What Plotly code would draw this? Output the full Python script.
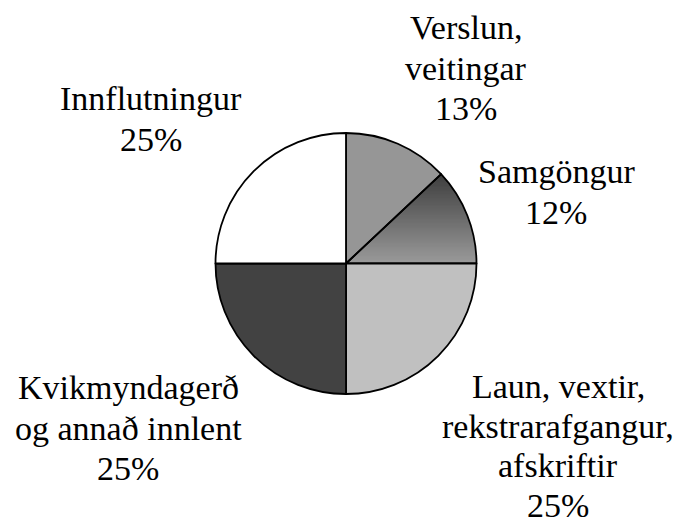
import numpy as np
import plotly.graph_objects as go

# ---------------- data ----------------
categories = [
    "Verslun,<br>veitingar",
    "Samgöngur",
    "Laun, vextir,<br>rekstrarafgangur,<br>afskriftir",
    "Kvikmyndagerð<br>og annað innlent",
    "Innflutningur",
]
values = [13, 12, 25, 25, 25]

# ---------------- layout constants (pixels) ----------------
W, H = 686, 525
CX, CY, R = 346.0, 263.5, 130.5
slice_colors = ["#969696", "rgba(0,0,0,0)", "#c0c0c0", "#424242", "#ffffff"]
GRAD_TOP, GRAD_BOTTOM = (0x3e, 0x3e, 0x3e), (0x9a, 0x9a, 0x9a)
FS = 34
FONT = "Liberation Serif"
# label anchors: centre x, baseline of first line, line spacing
label_pos = [(466, 39, 40.5), (556, 183, 41), (558, 398, 39.5), (128, 399, 40.5), (151, 110, 41)]

fig = go.Figure()

# ---------------- gradient slice (Samgöngur) drawn under the pie ----------------
total = float(sum(values))
start_deg = 90.0 - 360.0 * sum(values[:1]) / total
end_deg = start_deg - 360.0 * values[1] / total
angs = np.radians(np.linspace(end_deg, start_deg, 120))
wedge = [(0.0, 0.0)] + [(R * np.cos(a), R * np.sin(a)) for a in angs]


def clip(poly, yv, keep_above):
    out = []
    n = len(poly)
    for i in range(n):
        p, q = poly[i], poly[(i + 1) % n]
        pin = (p[1] >= yv) if keep_above else (p[1] <= yv)
        qin = (q[1] >= yv) if keep_above else (q[1] <= yv)
        if pin:
            out.append(p)
        if pin != qin:
            t = (yv - p[1]) / (q[1] - p[1])
            out.append((p[0] + t * (q[0] - p[0]), yv))
    return out


ys = [p[1] for p in wedge]
ymin, ymax = min(ys), max(ys)
NB = 70
bh = (ymax - ymin) / NB
for k in range(NB):
    y0 = ymin + k * bh
    y1 = min(ymax, y0 + bh * 1.8)
    poly = clip(clip(wedge, y0, True), y1, False)
    if len(poly) < 3:
        continue
    f = (y0 + bh / 2 - ymin) / (ymax - ymin)  # 0 bottom .. 1 top
    c = [round(GRAD_BOTTOM[i] + (GRAD_TOP[i] - GRAD_BOTTOM[i]) * f) for i in range(3)]
    xs = [CX + p[0] for p in poly] + [CX + poly[0][0]]
    yy = [CY - p[1] for p in poly] + [CY - poly[0][1]]
    fig.add_trace(go.Scatter(
        x=xs, y=yy, mode="lines", fill="toself",
        fillcolor=f"rgb({c[0]},{c[1]},{c[2]})",
        line=dict(width=0), hoverinfo="skip", showlegend=False,
    ))

# ---------------- pie ----------------
fig.add_trace(go.Pie(
    labels=[c.replace("<br>", " ") for c in categories],
    values=values,
    sort=False,
    direction="clockwise",
    rotation=0,
    textinfo="none",
    marker=dict(colors=slice_colors, line=dict(color="#000000", width=1.8)),
    domain=dict(x=[(CX - R) / W, (CX + R) / W], y=[1 - (CY + R) / H, 1 - (CY - R) / H]),
    showlegend=False,
))

# ---------------- labels ----------------
annotations = []
for cat, v, (lx, ly, lh) in zip(categories, values, label_pos):
    lines = cat.split("<br>") + [f"{v}%"]
    for i, ln in enumerate(lines):
        base = ly + i * lh
        annotations.append(dict(
            x=lx, y=base - 0.3375 * FS, xref="x", yref="y",
            text=ln, showarrow=False, xanchor="center", yanchor="middle",
            font=dict(family=FONT, size=FS, color="#000000"),
        ))

fig.update_layout(
    width=W, height=H,
    margin=dict(l=0, r=0, t=0, b=0),
    paper_bgcolor="white", plot_bgcolor="white",
    xaxis=dict(range=[0, W], visible=False, fixedrange=True),
    yaxis=dict(range=[H, 0], visible=False, fixedrange=True),
    annotations=annotations,
    showlegend=False,
    font=dict(family=FONT),
)

fig.write_html(
    "out.html",
    config={"displayModeBar": False},
    post_script="document.body.style.margin='0px';document.body.style.overflow='hidden';",
)
